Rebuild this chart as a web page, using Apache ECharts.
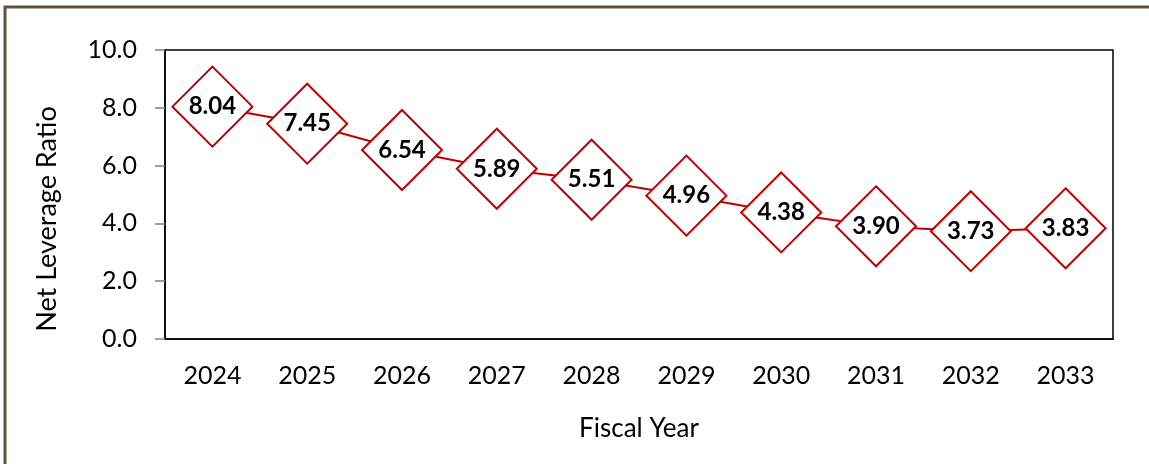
<!DOCTYPE html>
<html><head><meta charset="utf-8">
<script src="https://cdn.jsdelivr.net/npm/echarts@6/dist/echarts.min.js"></script>
<style>html,body{margin:0;padding:0;background:#fff}#c{width:1149px;height:464px}</style>
</head><body><div id="c"></div>
<script>
const categories = ['2024','2025','2026','2027','2028','2029','2030','2031','2032','2033'];
const leverage = [8.04, 7.45, 6.54, 5.89, 5.51, 4.96, 4.38, 3.90, 3.73, 3.83];
const yTicks = [0, 2, 4, 6, 8, 10];
const yTitle = 'Net Leverage Ratio';
const xTitle = 'Fiscal Year';

const chart = echarts.init(document.getElementById('c'), null, {renderer: 'canvas'});
const font = 'Lato, "Open Sans", sans-serif';
chart.setOption({
  animation: false,
  graphic: [{
    type: 'rect', shape: {x: 5, y: 7, width: 1200, height: 500},
    style: {fill: 'none', stroke: '#5b5637', lineWidth: 3}, z: -1
  }, {
    type: 'text', x: 47, y: 219, rotation: Math.PI / 2,
    style: {text: yTitle, fontFamily: font, fontSize: 27, fill: '#000', align: 'center', verticalAlign: 'middle'}
  }],
  grid: {left: 165, top: 50, right: 36, bottom: 125, show: true, borderColor: '#000', borderWidth: 1.5, backgroundColor: 'transparent'},
  xAxis: {
    type: 'category', data: categories, boundaryGap: true,
    name: xTitle, nameLocation: 'middle', nameGap: 77,
    nameTextStyle: {fontFamily: font, fontSize: 26, color: '#000'},
    axisLine: {lineStyle: {color: '#000', width: 1.5}},
    axisTick: {alignWithLabel: true, length: 7, lineStyle: {color: '#808080', width: 1.5}},
    axisLabel: {fontFamily: font, fontSize: 25, color: '#000', margin: 24}
  },
  yAxis: {
    type: 'value', min: 0, max: 10, interval: 2,
    splitLine: {show: false},
    axisLine: {show: true, lineStyle: {color: '#000', width: 1.5}},
    axisTick: {show: true, length: 10, lineStyle: {color: '#808080', width: 1.5}},
    axisLabel: {fontFamily: font, fontSize: 25, color: '#000', margin: 28,
      formatter: v => yTicks.includes(v) ? v.toFixed(1) : ''}
  },
  series: [{
    type: 'line', data: leverage,
    lineStyle: {color: '#c00000', width: 2},
    symbol: 'diamond', symbolSize: [80, 80],
    itemStyle: {color: '#fff', borderColor: '#c00000', borderWidth: 2},
    label: {show: true, position: 'inside', formatter: p => p.value.toFixed(2),
      fontFamily: font, fontWeight: 'bold', fontSize: 24, color: '#000'}
  }]
});
</script></body></html>
